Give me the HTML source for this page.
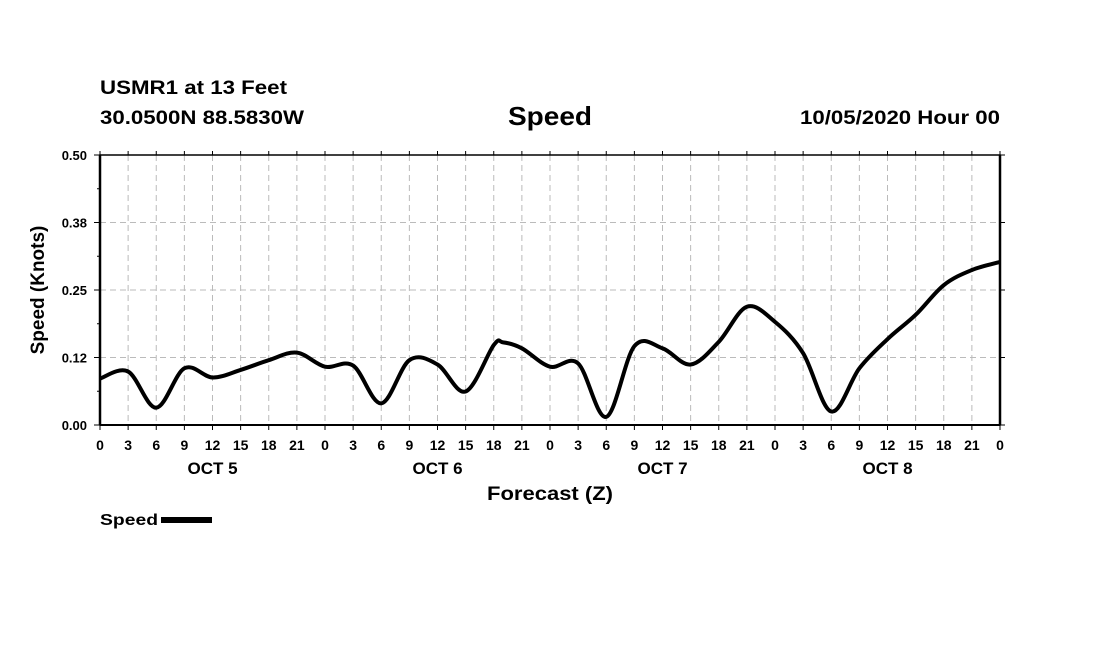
<!DOCTYPE html>
<html><head><meta charset="utf-8"><style>
body{margin:0;background:#fff;}
svg text{font-family:"Liberation Sans",Arial,sans-serif;font-weight:bold;fill:#000;}
</style></head><body>
<svg id="c" width="1100" height="650">
<text x="100" y="94" font-size="19" textLength="187" lengthAdjust="spacingAndGlyphs">USMR1 at 13 Feet</text>
<text x="100" y="124" font-size="19" textLength="204" lengthAdjust="spacingAndGlyphs">30.0500N 88.5830W</text>
<text x="508" y="125" font-size="26" textLength="84" lengthAdjust="spacingAndGlyphs">Speed</text>
<text x="800" y="124" font-size="19" textLength="200" lengthAdjust="spacingAndGlyphs">10/05/2020 Hour 00</text>
<g id="grid"></g>
<g id="axes"></g>
<path id="line" fill="none" stroke="#000" stroke-width="4" stroke-linejoin="round"/>
<text x="487" y="500" font-size="19" textLength="126" lengthAdjust="spacingAndGlyphs">Forecast (Z)</text>
<text transform="translate(44,290) rotate(-90)" font-size="19" text-anchor="middle">Speed (Knots)</text>
<g>
<text x="100" y="525" font-size="16" textLength="58" lengthAdjust="spacingAndGlyphs">Speed</text>
<rect x="161" y="517" width="51" height="6" fill="#000"/>
</g>
</svg>
<script>
const hours=[0,3,6,9,12,15,18,21,24,27,30,33,36,39,42,43,45,48,51,54,57,60,63,66,69,72,75,78,81,84,87,90,93,96];
const speeds=[0.086,0.099,0.032,0.105,0.088,0.102,0.12,0.134,0.108,0.11,0.04,0.12,0.112,0.062,0.148,0.153,0.142,0.108,0.114,0.015,0.146,0.142,0.112,0.154,0.219,0.191,0.133,0.025,0.105,0.159,0.204,0.259,0.287,0.302];
const yTickValues=[0,0.125,0.25,0.375,0.5];
const yTickLabels=["0.00","0.12","0.25","0.38","0.50"];
const dayLabels=["OCT 5","OCT 6","OCT 7","OCT 8"];
const X0=100,X1=1000,Y0=425,Y1=155,HMAX=96,YMAX=0.5;
const xs=h=>X0+(X1-X0)*h/HMAX;
const ys=v=>Y0-(Y0-Y1)*v/YMAX;
const NS="http://www.w3.org/2000/svg";
const grid=document.getElementById('grid'),axes=document.getElementById('axes');
function mk(p,tag,at){const e=document.createElementNS(NS,tag);for(const k in at)e.setAttribute(k,at[k]);p.appendChild(e);return e;}
for(let h=3;h<HMAX;h+=3){
 const g=mk(grid,'line',{x1:xs(h),x2:xs(h),y1:Y1,y2:Y0,stroke:'#bbb','stroke-dasharray':'6,4'});
 
 
}
for(let h=0;h<=HMAX;h+=3){
 const t=mk(axes,'text',{x:xs(h),y:450,'font-size':14,'text-anchor':'middle'});
 t.textContent=String(h%24);
 
 
 mk(axes,'line',{x1:xs(h),x2:xs(h),y1:Y0,y2:Y0+5,stroke:'#000'});
 mk(axes,'line',{x1:xs(h),x2:xs(h),y1:Y1,y2:Y1-4,stroke:'#000'});
}
dayLabels.forEach((d,i)=>{
 const t=mk(axes,'text',{x:xs(i*24+12),y:474,'font-size':17,'text-anchor':'middle'});
 t.textContent=d;
 
 
});
yTickValues.forEach((v,i)=>{
 if(v>0&&v<YMAX){const g=mk(grid,'line',{x1:X0,x2:X1,y1:ys(v),y2:ys(v),stroke:'#bbb','stroke-dasharray':'6,4'});
 
 }
 const t=mk(axes,'text',{x:87,y:ys(v)+5,'font-size':13,'text-anchor':'end'});
 t.textContent=yTickLabels[i];
 
 
 mk(axes,'line',{x1:X0-6,x2:X0,y1:ys(v),y2:ys(v),stroke:'#000'});
 mk(axes,'line',{x1:X1,x2:X1+5,y1:ys(v),y2:ys(v),stroke:'#000'});
 if(i<yTickValues.length-1){const m=(v+yTickValues[i+1])/2;
  mk(axes,'line',{x1:X0-3,x2:X0,y1:ys(m),y2:ys(m),stroke:'#000'});}
});
mk(axes,'rect',{x:X0,y:Y1,width:X1-X0,height:Y0-Y1,fill:'none',stroke:'#000','stroke-width':1.5});
mk(axes,'line',{x1:X0,x2:X0,y1:Y1,y2:Y0,stroke:'#000','stroke-width':2.5});
mk(axes,'line',{x1:X1,x2:X1,y1:Y1,y2:Y0,stroke:'#000','stroke-width':2.5});
mk(axes,'line',{x1:X0,x2:X1,y1:Y0,y2:Y0,stroke:'#000','stroke-width':2});
const P=hours.map((h,i)=>[xs(h),ys(speeds[i])]);
let d='M'+P[0][0]+','+P[0][1];
for(let i=0;i<P.length-1;i++){
 const p0=P[Math.max(0,i-1)],p1=P[i],p2=P[i+1],p3=P[Math.min(P.length-1,i+2)];
 const c1=[p1[0]+(p2[0]-p0[0])/6,p1[1]+(p2[1]-p0[1])/6];
 const c2=[p2[0]-(p3[0]-p1[0])/6,p2[1]-(p3[1]-p1[1])/6];
 d+=` C${c1[0]},${c1[1]} ${c2[0]},${c2[1]} ${p2[0]},${p2[1]}`;
}
document.getElementById('line').setAttribute('d',d);
</script>
</body></html>
